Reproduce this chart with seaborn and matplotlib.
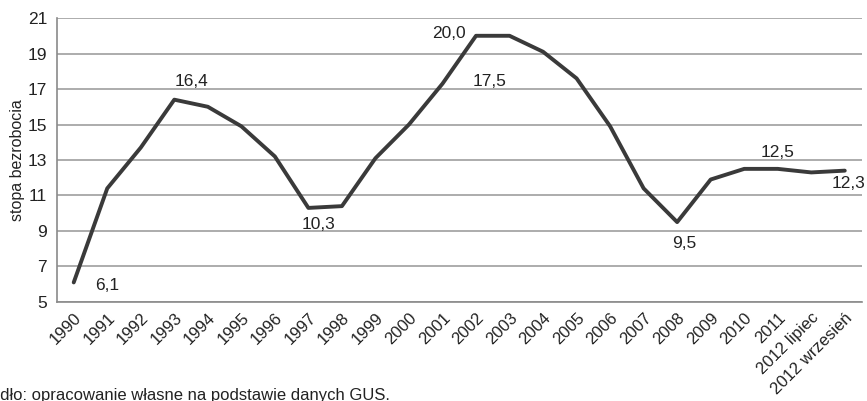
import numpy as np
import pandas as pd
import matplotlib
matplotlib.use("Agg")
import matplotlib.pyplot as plt
import seaborn as sns

# data
years = ["1990", "1991", "1992", "1993", "1994", "1995", "1996", "1997",
         "1998", "1999", "2000", "2001", "2002", "2003", "2004", "2005",
         "2006", "2007", "2008", "2009", "2010", "2011",
         "2012 lipiec", "2012 wrzesień"]
rate = [6.1, 11.4, 13.7, 16.4, 16.0, 14.9, 13.2, 10.3,
        10.4, 13.1, 15.0, 17.3, 20.0, 20.0, 19.1, 17.6,
        14.9, 11.4, 9.5, 11.9, 12.5, 12.5, 12.3, 12.4]
# annotations: text, category position, value position
ann_text = ["6,1", "16,4", "10,3", "20,0", "17,5", "9,5", "12,5", "12,3"]
ann_x = [1.0, 3.5, 7.3, 11.2, 12.4, 18.2, 21.0, 23.1]
ann_y = [5.9, 17.45, 9.35, 20.15, 17.4, 8.3, 13.4, 11.7]

df = pd.DataFrame({"idx": np.arange(len(years)), "rate": rate})

sns.set_style("white")
plt.rcParams["font.family"] = ["Liberation Sans", "DejaVu Sans"]

fig = plt.figure(figsize=(8.67, 4.01), dpi=100)
ax = fig.add_axes([0.0657, 0.247, 0.928, 0.708])

sns.lineplot(data=df, x="idx", y="rate", ax=ax, color="#3a3a3a", linewidth=2.8)

ax.set_xlim(-0.5, len(years) - 0.5)
ax.set_ylim(5, 21)
ax.set_yticks(range(5, 22, 2))
ax.yaxis.grid(True, color="#9e9e9e", linewidth=1.2)
ax.set_axisbelow(True)

ax.set_xticks(np.arange(len(years)))
ax.set_xticklabels(years, rotation=45, ha="right", rotation_mode="anchor")
ax.set_xticks(np.arange(-0.5, len(years)), minor=True)
ax.tick_params(axis="x", which="major", length=0, pad=6, labelsize=12, colors="#222222")
ax.tick_params(axis="x", which="minor", length=5, width=1.2, color="#8a8a8a", direction="out")
ax.tick_params(axis="y", length=5, width=1.2, color="#8a8a8a", labelsize=12.5,
               labelcolor="#222222", pad=2)

for side in ["top", "right"]:
    ax.spines[side].set_visible(False)
for side in ["left", "bottom"]:
    ax.spines[side].set_color("#8a8a8a")
    ax.spines[side].set_linewidth(1.2)

ax.set_xlabel("")
ax.set_ylabel("stopa bezrobocia", fontsize=11.5, color="#222222", labelpad=2)

for t, x, y in zip(ann_text, ann_x, ann_y):
    ax.text(x, y, t, ha="center", va="center", fontsize=12.5, color="#222222")

# source note, cut at the left edge as in the original
fig.text(-0.029, -0.004, "Źródło: opracowanie własne na podstawie danych GUS.",
         fontsize=12, color="#222222", ha="left", va="bottom")

fig.savefig("out.png", dpi=100, facecolor="white")
